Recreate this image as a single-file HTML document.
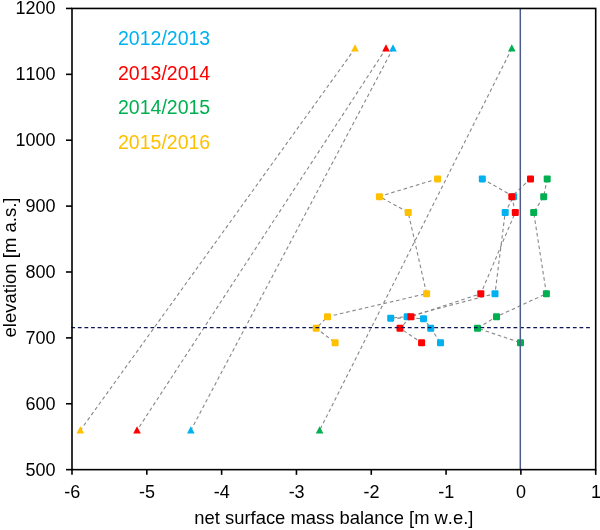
<!DOCTYPE html>
<html><head><meta charset="utf-8"><title>chart</title>
<style>html,body{margin:0;padding:0;background:#fff;}body{width:600px;height:530px;overflow:hidden;font-family:"Liberation Sans",sans-serif;}svg{display:block;will-change:transform;}text{font-family:"Liberation Sans",sans-serif;font-kerning:none;}</style>
</head><body>
<svg width="600" height="530" viewBox="0 0 600 530">
<rect x="0" y="0" width="600" height="530" fill="#ffffff"/>
<polyline points="393.0,48.5 190.8,430.4" fill="none" stroke="#878787" stroke-width="1.1" stroke-dasharray="3.6 2.8"/>
<polyline points="386.0,48.5 137.0,430.4" fill="none" stroke="#878787" stroke-width="1.1" stroke-dasharray="3.6 2.8"/>
<polyline points="511.8,48.5 319.6,430.4" fill="none" stroke="#878787" stroke-width="1.1" stroke-dasharray="3.6 2.8"/>
<polyline points="355.0,48.5 80.3,430.4" fill="none" stroke="#878787" stroke-width="1.1" stroke-dasharray="3.6 2.8"/>
<polyline points="482.3,178.8 513.6,196.5 505.2,212.4 495.0,293.6 407.2,316.7 390.7,318.0 423.5,318.5 430.7,328.2 440.5,342.7" fill="none" stroke="#878787" stroke-width="1.1" stroke-dasharray="3.6 2.8"/>
<polyline points="530.5,178.8 511.8,196.5 515.3,212.4 480.8,293.6 411.0,316.7 400.0,328.2 421.6,342.7" fill="none" stroke="#878787" stroke-width="1.1" stroke-dasharray="3.6 2.8"/>
<polyline points="547.2,178.8 543.7,196.5 533.7,212.4 546.4,293.6 496.5,316.7 477.5,328.2 520.5,342.7" fill="none" stroke="#878787" stroke-width="1.1" stroke-dasharray="3.6 2.8"/>
<polyline points="437.6,178.8 379.4,196.5 408.2,212.4 426.6,293.6 327.5,316.7 316.2,328.2 335.1,342.7" fill="none" stroke="#878787" stroke-width="1.1" stroke-dasharray="3.6 2.8"/>
<rect x="478.80" y="175.45" width="7" height="7" rx="1.1" fill="#00b0f0"/>
<rect x="510.10" y="193.15" width="7" height="7" rx="1.1" fill="#00b0f0"/>
<rect x="501.70" y="209.05" width="7" height="7" rx="1.1" fill="#00b0f0"/>
<rect x="491.50" y="290.25" width="7" height="7" rx="1.1" fill="#00b0f0"/>
<rect x="403.70" y="313.35" width="7" height="7" rx="1.1" fill="#00b0f0"/>
<rect x="387.20" y="314.65" width="7" height="7" rx="1.1" fill="#00b0f0"/>
<rect x="420.00" y="315.15" width="7" height="7" rx="1.1" fill="#00b0f0"/>
<rect x="427.20" y="324.85" width="7" height="7" rx="1.1" fill="#00b0f0"/>
<rect x="437.00" y="339.35" width="7" height="7" rx="1.1" fill="#00b0f0"/>
<rect x="527.00" y="175.45" width="7" height="7" rx="1.1" fill="#ff0000"/>
<rect x="508.30" y="193.15" width="7" height="7" rx="1.1" fill="#ff0000"/>
<rect x="511.80" y="209.05" width="7" height="7" rx="1.1" fill="#ff0000"/>
<rect x="477.30" y="290.25" width="7" height="7" rx="1.1" fill="#ff0000"/>
<rect x="407.50" y="313.35" width="7" height="7" rx="1.1" fill="#ff0000"/>
<rect x="396.50" y="324.85" width="7" height="7" rx="1.1" fill="#ff0000"/>
<rect x="418.10" y="339.35" width="7" height="7" rx="1.1" fill="#ff0000"/>
<rect x="543.70" y="175.45" width="7" height="7" rx="1.1" fill="#00b050"/>
<rect x="540.20" y="193.15" width="7" height="7" rx="1.1" fill="#00b050"/>
<rect x="530.20" y="209.05" width="7" height="7" rx="1.1" fill="#00b050"/>
<rect x="542.90" y="290.25" width="7" height="7" rx="1.1" fill="#00b050"/>
<rect x="493.00" y="313.35" width="7" height="7" rx="1.1" fill="#00b050"/>
<rect x="474.00" y="324.85" width="7" height="7" rx="1.1" fill="#00b050"/>
<rect x="517.00" y="339.35" width="7" height="7" rx="1.1" fill="#00b050"/>
<rect x="434.10" y="175.45" width="7" height="7" rx="1.1" fill="#ffc000"/>
<rect x="375.90" y="193.15" width="7" height="7" rx="1.1" fill="#ffc000"/>
<rect x="404.70" y="209.05" width="7" height="7" rx="1.1" fill="#ffc000"/>
<rect x="423.10" y="290.25" width="7" height="7" rx="1.1" fill="#ffc000"/>
<rect x="324.00" y="313.35" width="7" height="7" rx="1.1" fill="#ffc000"/>
<rect x="312.70" y="324.85" width="7" height="7" rx="1.1" fill="#ffc000"/>
<rect x="331.60" y="339.35" width="7" height="7" rx="1.1" fill="#ffc000"/>
<polygon points="393.0,44.3 396.8,51.6 389.2,51.6" fill="#00b0f0"/>
<polygon points="190.8,426.2 194.6,433.5 187.0,433.5" fill="#00b0f0"/>
<polygon points="386.0,44.3 389.8,51.6 382.2,51.6" fill="#ff0000"/>
<polygon points="137.0,426.2 140.8,433.5 133.2,433.5" fill="#ff0000"/>
<polygon points="511.8,44.3 515.6,51.6 508.0,51.6" fill="#00b050"/>
<polygon points="319.6,426.2 323.4,433.5 315.8,433.5" fill="#00b050"/>
<polygon points="355.0,44.3 358.8,51.6 351.2,51.6" fill="#ffc000"/>
<polygon points="80.3,426.2 84.1,433.5 76.5,433.5" fill="#ffc000"/>
<line x1="71.25" y1="327.6" x2="589.9" y2="327.6" stroke="#0c1759" stroke-width="1.45" stroke-dasharray="3.8 2.8"/>
<rect x="519.55" y="8.45" width="1.5" height="461.20" fill="#4c5c8c"/>
<rect x="72.0" y="8.45" width="523.70" height="461.20" fill="none" stroke="#000" stroke-width="1.6"/>
<line x1="66.0" y1="8.45" x2="72.0" y2="8.45" stroke="#000" stroke-width="1.6"/>
<text x="55.6" y="14.35" font-size="18" text-anchor="end" fill="#000">1200</text>
<line x1="66.0" y1="74.34" x2="72.0" y2="74.34" stroke="#000" stroke-width="1.6"/>
<text x="55.6" y="80.24" font-size="18" text-anchor="end" fill="#000">1100</text>
<line x1="66.0" y1="140.22" x2="72.0" y2="140.22" stroke="#000" stroke-width="1.6"/>
<text x="55.6" y="146.12" font-size="18" text-anchor="end" fill="#000">1000</text>
<line x1="66.0" y1="206.11" x2="72.0" y2="206.11" stroke="#000" stroke-width="1.6"/>
<text x="55.6" y="212.01" font-size="18" text-anchor="end" fill="#000">900</text>
<line x1="66.0" y1="271.99" x2="72.0" y2="271.99" stroke="#000" stroke-width="1.6"/>
<text x="55.6" y="277.89" font-size="18" text-anchor="end" fill="#000">800</text>
<line x1="66.0" y1="337.88" x2="72.0" y2="337.88" stroke="#000" stroke-width="1.6"/>
<text x="55.6" y="343.78" font-size="18" text-anchor="end" fill="#000">700</text>
<line x1="66.0" y1="403.76" x2="72.0" y2="403.76" stroke="#000" stroke-width="1.6"/>
<text x="55.6" y="409.66" font-size="18" text-anchor="end" fill="#000">600</text>
<line x1="66.0" y1="469.65" x2="72.0" y2="469.65" stroke="#000" stroke-width="1.6"/>
<text x="55.6" y="475.55" font-size="18" text-anchor="end" fill="#000">500</text>
<line x1="72.00" y1="469.65" x2="72.00" y2="474.84999999999997" stroke="#000" stroke-width="1.6"/>
<text x="72.20" y="497.6" font-size="18" text-anchor="middle" fill="#000">-6</text>
<line x1="146.81" y1="469.65" x2="146.81" y2="474.84999999999997" stroke="#000" stroke-width="1.6"/>
<text x="147.01" y="497.6" font-size="18" text-anchor="middle" fill="#000">-5</text>
<line x1="221.63" y1="469.65" x2="221.63" y2="474.84999999999997" stroke="#000" stroke-width="1.6"/>
<text x="221.83" y="497.6" font-size="18" text-anchor="middle" fill="#000">-4</text>
<line x1="296.44" y1="469.65" x2="296.44" y2="474.84999999999997" stroke="#000" stroke-width="1.6"/>
<text x="296.64" y="497.6" font-size="18" text-anchor="middle" fill="#000">-3</text>
<line x1="371.26" y1="469.65" x2="371.26" y2="474.84999999999997" stroke="#000" stroke-width="1.6"/>
<text x="371.46" y="497.6" font-size="18" text-anchor="middle" fill="#000">-2</text>
<line x1="446.07" y1="469.65" x2="446.07" y2="474.84999999999997" stroke="#000" stroke-width="1.6"/>
<text x="446.27" y="497.6" font-size="18" text-anchor="middle" fill="#000">-1</text>
<line x1="520.89" y1="469.65" x2="520.89" y2="474.84999999999997" stroke="#000" stroke-width="1.6"/>
<text x="521.09" y="497.6" font-size="18" text-anchor="middle" fill="#000">0</text>
<line x1="595.70" y1="469.65" x2="595.70" y2="474.84999999999997" stroke="#000" stroke-width="1.6"/>
<text x="595.90" y="497.6" font-size="18" text-anchor="middle" fill="#000">1</text>
<text x="333.9" y="524" font-size="18.4" text-anchor="middle" fill="#000">net surface mass balance [m w.e.]</text>
<text transform="translate(15.5,267.5) rotate(-90)" font-size="18.5" text-anchor="middle" fill="#000">elevation [m a.s.]</text>
<text x="118" y="44.6" font-size="19.5" fill="#00b0f0">2012/2013</text>
<text x="118" y="80.0" font-size="19.5" fill="#ff0000">2013/2014</text>
<text x="118" y="114.1" font-size="19.5" fill="#00b050">2014/2015</text>
<text x="118" y="149.2" font-size="19.5" fill="#ffc000">2015/2016</text>
</svg>
</body></html>
